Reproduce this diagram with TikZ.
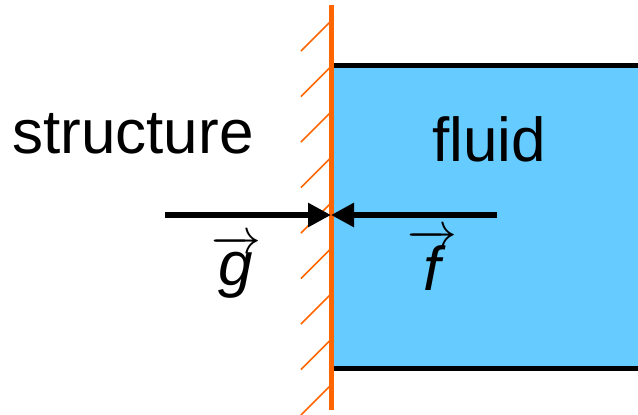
\documentclass[tikz,border=0pt]{standalone}
\usepackage{fontspec}
\setmainfont{Liberation Sans}
\usepackage{xcolor}
\usetikzlibrary{arrows.meta}

\definecolor{wallorange}{HTML}{FF6600}
\definecolor{fluidblue}{HTML}{66CCFF}

\begin{document}
\begin{tikzpicture}[
    x=0.5pt, y=-0.5pt, % one unit is one pixel of the sketch
    every node/.style={font=\fontsize{31}{37}\selectfont, inner sep=0pt},
    hatch/.style={wallorange, line width=0.75pt},
    wall/.style={wallorange, line width=2.5pt},
    border/.style={black, line width=2.5pt},
    force/.style={line width=3pt, -{Triangle[length=11.5pt, width=11.5pt]}}
]
    \useasboundingbox (0,0) rectangle (638,414);

    % the fluid region
    \fill [fluidblue] (331,65) rectangle (638,368);
    \draw [border] (331,65) -- (638,65);
    \draw [border] (331,368) -- (638,368);

    % hatching of the structure side
    \foreach \i in {0,...,8}
        \draw [hatch] (331,{21+45.5*\i}) -- ++(-30,30);

    % the interface
    \coordinate (walltop) at (331,5);
    \coordinate (wallbot) at (331,410);
    \draw [wall] (walltop) -- (wallbot);

    % labels
    \node (structure) [anchor=base] at (133,153) {structure};
    \node (fluid) [anchor=base] at (489,161) {fluid};
    \node (g) [anchor=base] at (236,285) {\(\overrightarrow{\textit{g}}\)};
    \node (f) [anchor=base] at (432,290) {\(\overrightarrow{\textit{f}}\)};

    % the two forces
    \coordinate (contact) at (331,215);
    \coordinate (gtail) at (165,215);
    \coordinate (ftail) at (497,215);
    \draw [force] (gtail) -- (contact);
    \draw [force] (ftail) -- (contact);
\end{tikzpicture}
\end{document}
